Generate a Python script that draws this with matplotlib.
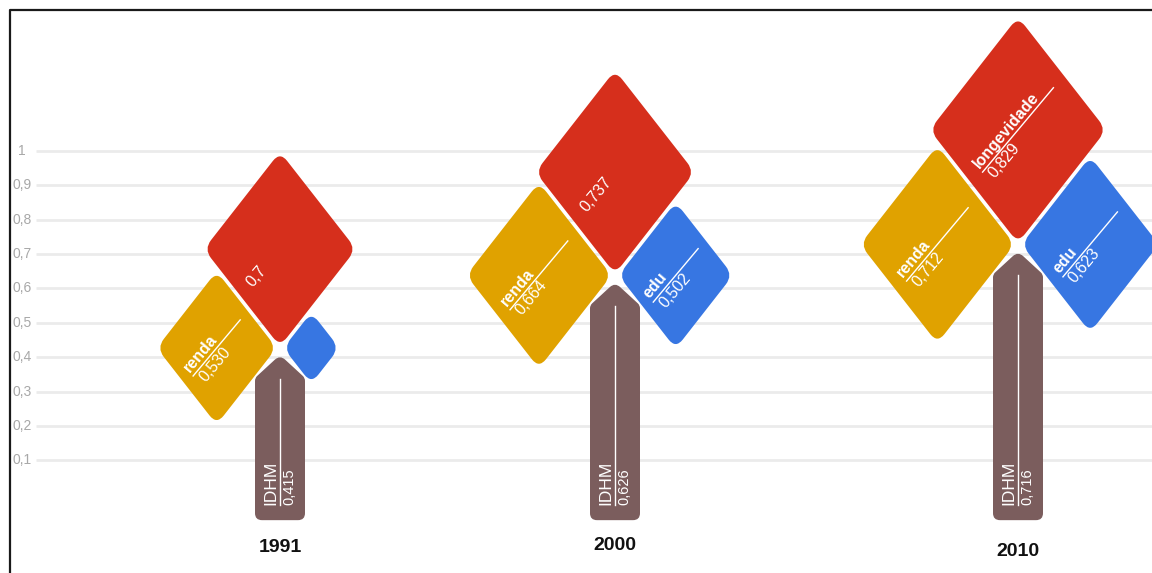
import numpy as np
import matplotlib.pyplot as plt
from matplotlib.path import Path
from matplotlib.patches import PathPatch

# data
years = ['1991', '2000', '2010']
idhm = [0.415, 0.626, 0.716]
longevidade = [0.700, 0.737, 0.829]
renda = [0.530, 0.664, 0.712]
educacao = [0.193, 0.502, 0.623]

idhm_txt = ['0,415', '0,626', '0,716']
longevidade_txt = ['0,7', '0,737', '0,829']
renda_txt = ['0,530', '0,664', '0,712']
educacao_txt = ['', '0,502', '0,623']
longevidade_nome = ['', '', 'longevidade']
renda_nome = ['renda', 'renda', 'renda']
educacao_nome = ['', 'edu', 'edu']

ticks = [0.1, 0.2, 0.3, 0.4, 0.5, 0.6, 0.7, 0.8, 0.9, 1.0]
tick_labels = ['0,1', '0,2', '0,3', '0,4', '0,5', '0,6', '0,7', '0,8', '0,9', '1']

# layout
tree_x = [280, 615, 1018]
year_y_px = [548, 545, 551]
ZERO_PX = 494.7          # pixel row of value 0
PX = 1 / 344.0           # value units per vertical pixel
STRETCH = 1.28
ANG = np.deg2rad(50)
TRUNK_BOTTOM = -0.074

RED = '#d62f1c'
YEL = '#e0a200'
BLUE = '#3776e2'
BROWN = '#7b5d5d'
FONT = ['Liberation Sans', 'DejaVu Sans']
NARROW = ['Liberation Sans Narrow', 'Liberation Sans', 'DejaVu Sans']


def rounded_path(verts, rads):
    verts = np.asarray(verts, float)
    n = len(verts)
    pts, codes = [], []
    for i in range(n):
        v, p, q = verts[i], verts[i - 1], verts[(i + 1) % n]
        a = v + rads[i] * (p - v) / np.linalg.norm(p - v)
        b = v + rads[i] * (q - v) / np.linalg.norm(q - v)
        pts += [a, v, b]
        codes += [Path.LINETO if i else Path.MOVETO, Path.CURVE3, Path.CURVE3]
    pts.append(pts[0])
    codes.append(Path.CLOSEPOLY)
    return np.array(pts), codes


def leaf_size(v):
    return 12 + 190 * v


def diamond(ax, cx, cy, value, color):
    w = leaf_size(value)
    h = w / 2 + 0.354 * 10
    pts, codes = rounded_path([(h, 0), (0, h), (-h, 0), (0, -h)], [10] * 4)
    pts[:, 1] *= STRETCH
    pts[:, 0] += cx
    pts[:, 1] = cy + pts[:, 1] * PX
    ax.add_patch(PathPatch(Path(pts, codes), facecolor=color,
                           edgecolor='none', zorder=3))


def leaf_label(ax, cx, cy, value, nome, txt):
    w = leaf_size(value)
    u = np.array([np.cos(ANG), np.sin(ANG)])
    nrm = np.array([-np.sin(ANG), np.cos(ANG)])
    half = 0.325 * w
    s = -u * half

    def pos(off):
        return cx + off[0], cy + off[1] * PX

    kw = dict(rotation=50, rotation_mode='anchor', ha='left', color='white',
              fontsize=11.5, family=FONT, zorder=5)
    if nome:
        (x0, y0), (x1, y1) = pos(s), pos(u * half)
        ax.plot([x0, x1], [y0, y1], color='white', lw=1, zorder=4)
        ax.text(*pos(s + nrm * 1.5), nome, va='bottom', fontweight='bold', **kw)
        ax.text(*pos(s - nrm * 1.5 + u * 3), txt, va='top', **kw)
    elif txt:
        ax.text(*pos(s), txt, va='center', **kw)


def trunk(ax, xc, value, txt):
    top = value - 3 * PX
    depth = (top - TRUNK_BOTTOM) / PX
    local = [(0, 0), (25, -23), (25, -depth), (-25, -depth), (-25, -23)]
    pts, codes = rounded_path(local, [7, 3, 7, 7, 3])
    pts[:, 0] += xc
    pts[:, 1] = top + pts[:, 1] * PX
    ax.add_patch(PathPatch(Path(pts, codes), facecolor=BROWN,
                           edgecolor='none', zorder=3))
    y_txt = TRUNK_BOTTOM + 15 * PX
    ax.plot([xc, xc], [top - 24 * PX, y_txt], color='white', lw=1, zorder=4)
    kw = dict(rotation=90, rotation_mode='anchor', ha='left', color='white',
              family=FONT, zorder=5)
    ax.text(xc - 2, y_txt, 'IDHM', va='bottom', fontsize=12.5, **kw)
    ax.text(xc + 2, y_txt, txt, va='top', fontsize=10.5, **kw)


fig = plt.figure(figsize=(11.52, 5.73), dpi=100)
ax = fig.add_axes([0, 0, 1, 1])
ax.set_xlim(0, 1152)
ax.set_ylim(-(573 - ZERO_PX) * PX, ZERO_PX * PX)
ax.axis('off')

# grid and y labels
ax.hlines(ticks, 36, 1152, color='#ebebeb', lw=2, zorder=1)
for t, lab in zip(ticks, tick_labels):
    ax.text(22, t, lab, ha='center', va='center', fontsize=10,
            color='#a8a8a8', family=FONT)

# frame
top_frame = (ZERO_PX - 9.5) * PX
ax.plot([9.5, 9.5, 1152], [-(573 - ZERO_PX) * PX, top_frame, top_frame],
        color='#1a1a1a', lw=1.6, clip_on=False, zorder=6)

for i, xc in enumerate(tree_x):
    jy = idhm[i] + 4 * PX
    trunk(ax, xc, idhm[i], idhm_txt[i])

    w = leaf_size(longevidade[i])
    cy = jy + (6 + STRETCH * w / 2) * PX
    diamond(ax, xc, cy, longevidade[i], RED)
    leaf_label(ax, xc, cy, longevidade[i], longevidade_nome[i], longevidade_txt[i])

    w = leaf_size(renda[i])
    cx = xc - 7 - w / 2
    diamond(ax, cx, jy, renda[i], YEL)
    leaf_label(ax, cx, jy, renda[i], renda_nome[i], renda_txt[i])

    w = leaf_size(educacao[i])
    cx = xc + 7 + w / 2
    diamond(ax, cx, jy, educacao[i], BLUE)
    leaf_label(ax, cx, jy, educacao[i], educacao_nome[i], educacao_txt[i])

    ax.text(xc, (ZERO_PX - year_y_px[i]) * PX, years[i], ha='center',
            va='center', fontsize=14, fontweight='bold', family=NARROW,
            color='#111111')

fig.savefig('out.png', dpi=100)
